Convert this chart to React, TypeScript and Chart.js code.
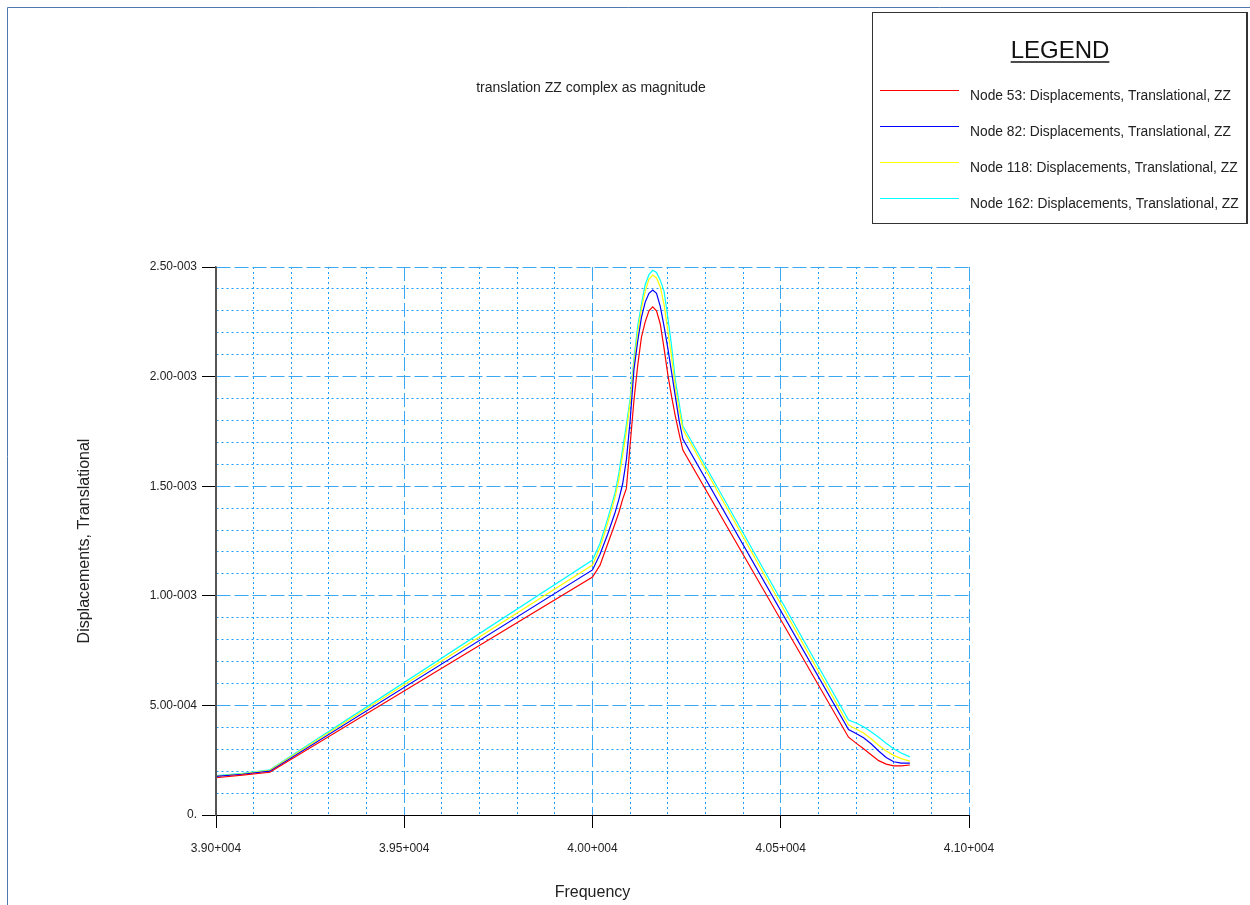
import React, { useEffect, useRef } from 'react';
import { Chart, registerables } from 'chart.js';

Chart.register(...registerables);

// ---------- data ----------
const frequencies = [
  39000, 39070, 39143, 40000, 40020, 40040, 40060, 40070, 40080, 40090,
  40100, 40110, 40120, 40130, 40140, 40150, 40160, 40170, 40180, 40190,
  40200, 40210, 40220, 40230, 40240, 40680, 40700, 40720, 40740, 40760,
  40780, 40800, 40820, 40843,
];
const node53 = [
  0.170e-3, 0.182e-3, 0.195e-3, 1.086e-3, 1.14e-3, 1.235e-3, 1.33e-3, 1.38e-3, 1.44e-3, 1.49e-3,
  1.69e-3, 1.89e-3, 2.05e-3, 2.18e-3, 2.25e-3, 2.30e-3, 2.318e-3, 2.30e-3, 2.24e-3, 2.13e-3,
  2.01e-3, 1.91e-3, 1.82e-3, 1.74e-3, 1.665e-3, 0.355e-3, 0.328e-3, 0.302e-3, 0.275e-3, 0.248e-3,
  0.232e-3, 0.224e-3, 0.224e-3, 0.228e-3,
];
const node82 = [
  0.176e-3, 0.186e-3, 0.200e-3, 1.118e-3, 1.19e-3, 1.28e-3, 1.38e-3, 1.44e-3, 1.51e-3, 1.62e-3,
  1.80e-3, 2.03e-3, 2.16e-3, 2.27e-3, 2.34e-3, 2.38e-3, 2.395e-3, 2.38e-3, 2.32e-3, 2.23e-3,
  2.13e-3, 2.02e-3, 1.91e-3, 1.80e-3, 1.715e-3, 0.39e-3, 0.372e-3, 0.352e-3, 0.325e-3, 0.292e-3,
  0.262e-3, 0.243e-3, 0.237e-3, 0.237e-3,
];
const node118 = [
  0.178e-3, 0.188e-3, 0.204e-3, 1.14e-3, 1.22e-3, 1.33e-3, 1.45e-3, 1.53e-3, 1.64e-3, 1.75e-3,
  1.88e-3, 2.06e-3, 2.20e-3, 2.31e-3, 2.39e-3, 2.445e-3, 2.463e-3, 2.45e-3, 2.41e-3, 2.33e-3,
  2.21e-3, 2.09e-3, 1.95e-3, 1.85e-3, 1.76e-3, 0.41e-3, 0.392e-3, 0.374e-3, 0.348e-3, 0.318e-3,
  0.292e-3, 0.272e-3, 0.257e-3, 0.246e-3,
];
const node162 = [
  0.180e-3, 0.190e-3, 0.206e-3, 1.163e-3, 1.24e-3, 1.35e-3, 1.47e-3, 1.56e-3, 1.67e-3, 1.78e-3,
  1.90e-3, 2.08e-3, 2.23e-3, 2.33e-3, 2.42e-3, 2.465e-3, 2.485e-3, 2.475e-3, 2.44e-3, 2.39e-3,
  2.27e-3, 2.14e-3, 1.985e-3, 1.88e-3, 1.775e-3, 0.433e-3, 0.42e-3, 0.403e-3, 0.38e-3, 0.355e-3,
  0.327e-3, 0.302e-3, 0.283e-3, 0.265e-3,
];
const seriesLabels = [
  'Node 53: Displacements, Translational, ZZ',
  'Node 82: Displacements, Translational, ZZ',
  'Node 118: Displacements, Translational, ZZ',
  'Node 162: Displacements, Translational, ZZ',
];
const seriesColors = ['#ff0000', '#0000ff', '#ffff00', '#00ffff'];
const xTickLabels = ['3.90+004', '3.95+004', '4.00+004', '4.05+004', '4.10+004'];
const yTickLabels = ['0.', '5.00-004', '1.00-003', '1.50-003', '2.00-003', '2.50-003'];
const xMin = 39000;
const xMax = 41000;
const xMinorStep = 100;
const yMin = 0;
const yMax = 2.5e-3;
const yMinorStep = 1e-4;
const chartTitle = 'translation ZZ complex as magnitude';
const xTitle = 'Frequency';
const yTitle = 'Displacements, Translational';
const legendTitle = 'LEGEND';

// ---------- styles ----------
const FONT = 'Arial, "Liberation Sans", sans-serif';
const TEXT = '#222222';
const MAJOR = '#3aa8f5';
const MINOR = '#1a9cff';
const CLEAR = 'rgba(0,0,0,0)';

const xGrid = Array.from({ length: Math.round((xMax - xMin) / xMinorStep) + 1 }, (_, i) => xMin + i * xMinorStep);
const yGrid = Array.from({ length: Math.round((yMax - yMin) / yMinorStep) + 1 }, (_, i) => yMin + i * yMinorStep);

const gridColor = (c: any) => (c.index === 0 ? CLEAR : c.index % 5 === 0 ? MAJOR : MINOR);
const tickMarkColor = (c: any) => (c.index % 5 === 0 ? '#000000' : CLEAR);
const gridDash = (c: any) => (c.type === 'tick' ? (c.index % 5 === 0 ? [14, 4] : [2, 3]) : []);

const decorPlugin = {
  id: 'decor',
  afterDraw(chart: any) {
    const ctx = chart.ctx as CanvasRenderingContext2D;
    const area = chart.chartArea;
    ctx.save();
    // axis lines (left grey, bottom black)
    ctx.strokeStyle = '#555555';
    ctx.lineWidth = 1.5;
    ctx.beginPath();
    ctx.moveTo(Math.round(area.left) + 0.25, area.top);
    ctx.lineTo(Math.round(area.left) + 0.25, area.bottom);
    ctx.stroke();

    // outer frame
    ctx.strokeStyle = '#4f79ad';
    ctx.lineWidth = 1;
    ctx.beginPath();
    ctx.moveTo(7.5, 905);
    ctx.lineTo(7.5, 7.5);
    ctx.lineTo(1250, 7.5);
    ctx.stroke();

    // title
    ctx.fillStyle = TEXT;
    ctx.font = `14px ${FONT}`;
    ctx.textAlign = 'center';
    ctx.textBaseline = 'middle';
    ctx.fillText(chartTitle, 591, 88);

    // legend box
    ctx.strokeStyle = '#333333';
    ctx.lineWidth = 1;
    ctx.strokeRect(872.5, 12.5, 374, 211);
    ctx.lineWidth = 2;
    ctx.beginPath();
    ctx.moveTo(1247, 12);
    ctx.lineTo(1247, 224);
    ctx.stroke();

    ctx.font = `24px ${FONT}`;
    ctx.textAlign = 'center';
    ctx.fillStyle = '#111';
    ctx.fillText(legendTitle, 1060, 51);
    const tw = ctx.measureText(legendTitle).width;
    ctx.lineWidth = 1.5;
    ctx.strokeStyle = '#111';
    ctx.beginPath();
    ctx.moveTo(1060 - tw / 2, 62);
    ctx.lineTo(1060 + tw / 2, 62);
    ctx.stroke();

    ctx.font = `13.8px ${FONT}`;
    ctx.textAlign = 'left';
    ctx.fillStyle = TEXT;
    chart.data.datasets.forEach((ds: any, i: number) => {
      const y = 90 + i * 36;
      ctx.strokeStyle = ds.borderColor;
      ctx.lineWidth = 1;
      ctx.beginPath();
      ctx.moveTo(880, y + 0.5);
      ctx.lineTo(959, y + 0.5);
      ctx.stroke();
      ctx.fillText(ds.label, 970, y + 6);
    });
    ctx.restore();
  },
};

export default function App() {
  const ref = useRef<HTMLCanvasElement | null>(null);

  useEffect(() => {
    if (!ref.current) return;
    const series = [node53, node82, node118, node162];
    const chart = new Chart(ref.current, {
      type: 'line',
      data: {
        datasets: series.map((vals, i) => ({
          label: seriesLabels[i],
          data: frequencies.map((f, j) => ({ x: f, y: vals[j] })),
          borderColor: seriesColors[i],
          backgroundColor: seriesColors[i],
          borderWidth: 1.2,
          pointRadius: 0,
          tension: 0,
          fill: false,
        })),
      },
      options: {
        responsive: false,
        animation: false,
        devicePixelRatio: 1,
        layout: { padding: { left: 0, top: 267, right: 281, bottom: 0 } },
        plugins: {
          legend: { display: false },
          title: { display: false },
          tooltip: { enabled: false },
        },
        scales: {
          x: {
            type: 'linear',
            min: xMin,
            max: xMax,
            afterBuildTicks: (scale: any) => {
              scale.ticks = xGrid.map((v) => ({ value: v }));
            },
            afterFit: (scale: any) => {
              scale.height = 90;
            },
            ticks: {
              autoSkip: false,
              maxRotation: 0,
              padding: 13,
              color: TEXT,
              font: { family: FONT, size: 12 },
              callback: (_v: any, i: number) => (i % 5 === 0 ? xTickLabels[i / 5] : ''),
            },
            grid: {
              color: gridColor,
              lineWidth: 1,
              tickColor: tickMarkColor,
              tickLength: 13,
            },
            border: {
              display: true,
              color: '#000000',
              width: 1,
              dash: gridDash,
            },
            title: {
              display: true,
              text: xTitle,
              color: TEXT,
              font: { family: FONT, size: 16 },
              padding: { top: 0, bottom: 3 },
            },
          },
          y: {
            type: 'linear',
            min: yMin,
            max: yMax,
            afterBuildTicks: (scale: any) => {
              scale.ticks = yGrid.map((v) => ({ value: v }));
            },
            afterFit: (scale: any) => {
              scale.width = 216;
            },
            ticks: {
              autoSkip: false,
              padding: 5,
              color: TEXT,
              font: { family: FONT, size: 12 },
              callback: (_v: any, i: number) => (i % 5 === 0 ? yTickLabels[i / 5] : ''),
            },
            grid: {
              color: gridColor,
              lineWidth: 1,
              tickColor: tickMarkColor,
              tickLength: 14,
            },
            border: {
              display: true,
              color: '#555555',
              width: 1.5,
              dash: gridDash,
            },
            title: {
              display: true,
              text: yTitle,
              color: TEXT,
              font: { family: FONT, size: 16 },
              padding: { top: 75, bottom: 0 },
            },
          },
        },
      },
      plugins: [decorPlugin],
    } as any);
    return () => chart.destroy();
  }, []);

  return (
    <div style={{ position: 'absolute', left: 0, top: 0, width: 1250, height: 905, background: '#ffffff' }}>
      <canvas ref={ref} width={1250} height={905} style={{ display: 'block', width: 1250, height: 905 }} />
    </div>
  );
}
